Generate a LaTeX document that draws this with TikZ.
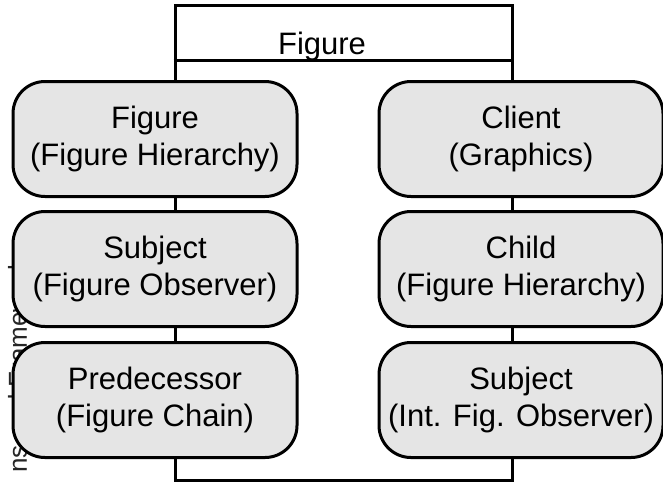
\documentclass[tikz,border=0pt]{standalone}
\usepackage{fontspec}
\setmainfont{Liberation Sans}
\definecolor{boxgris}{rgb}{0.9,0.9,0.9}
\definecolor{textgris}{rgb}{0.15,0.15,0.15}

\begin{document}
\begin{tikzpicture}[x=1pt, y=-1pt, line width=3pt]
  \tikzstyle{role}=[draw, fill=boxgris, rounded corners=32pt, minimum width=284pt, minimum height=115pt, align=center, inner sep=0pt, font=\fontsize{31}{37}\selectfont]
  \useasboundingbox (0,0) rectangle (663,483);

	\node[rotate=90, anchor=base west, inner sep=0pt, text=textgris, font=\fontsize{26}{30}\selectfont] (side) at (27,474) {ns and Frameworks};

	\node[draw, minimum width=337pt, minimum height=475pt, inner sep=0pt] (fig) at (343.5,242.5) {};
	\node[anchor=base, inner sep=0pt, font=\fontsize{31}{37}\selectfont] (title) at (322,54) {Figure};
	\draw ([yshift=-57pt]fig.north west) -- ([yshift=-57pt]fig.north east);

	\node[role] (FH)   at (155,139) {Figure\\(Figure Hierarchy)};
	\node[role] (FO)   at (155,269) {Subject\\(Figure Observer)};
	\node[role] (FC)   at (155,400) {Predecessor\\(Figure Chain)};
	\node[role] (GR)   at (521,139) {Client\\(Graphics)};
	\node[role] (CH)   at (521,269) {Child\\(Figure Hierarchy)};
	\node[role] (IFO)  at (521,400) {Subject\\(Int. Fig. Observer)};

\end{tikzpicture}
\end{document}
